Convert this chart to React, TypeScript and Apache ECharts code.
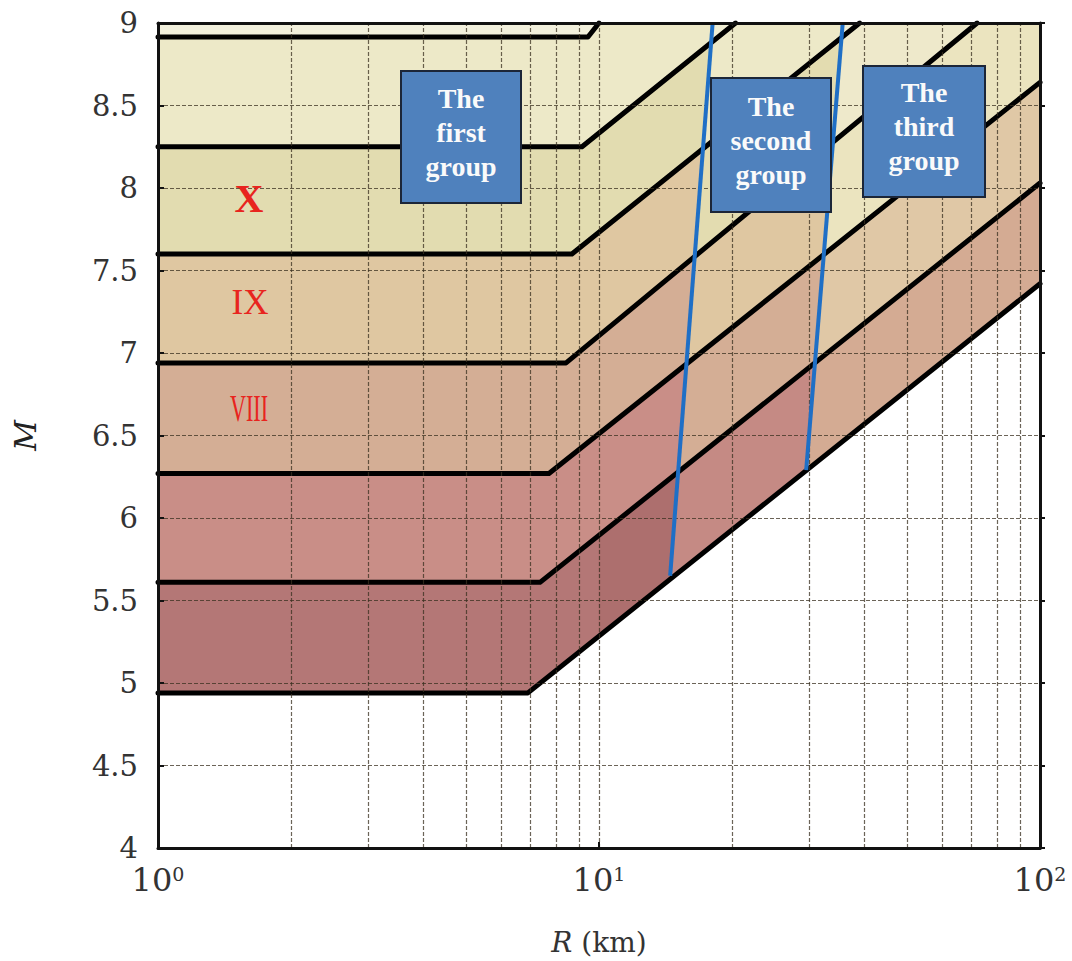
import React, { useEffect, useRef } from "react";
import * as echarts from "echarts";

// Boundary lines between intensity bands: [R (km), M]
const boundary1 = [[1, 4.94], [6.9, 4.94], [100, 7.42]];
const boundary2 = [[1, 5.61], [7.35, 5.61], [100, 8.03]];
const boundary3 = [[1, 6.27], [7.7, 6.27], [100, 8.64]];
const boundary4 = [[1, 6.94], [8.42, 6.94], [72, 9]];
const boundary5 = [[1, 7.6], [8.68, 7.6], [39, 9]];
const boundary6 = [[1, 8.25], [9.15, 8.25], [20.4, 9]];
const boundary7 = [[1, 8.915], [9.44, 8.915], [10, 9]];
const boundaries = [boundary1, boundary2, boundary3, boundary4, boundary5, boundary6, boundary7];

// Fill colour of the band lying above each boundary, per group
const firstGroupColors = ["#b47776", "#c98e87", "#d4ae95", "#dfc7a1", "#e2dcb0", "#ede9c8", "#f2f0dc"];
const secondGroupColors = ["#c58a84", "#d4ae95", "#dfc7a1", "#e3dcb0", "#ede9c8", "#f0eed4", "#f2f0dc"];
const thirdGroupColors = ["#d4ab93", "#e0c8a6", "#ebe4bf", "#eee9cb", "#f0eed6", "#f2f0dc", "#f2f0dc"];
const nearFieldEdge = [[10, 4], [10, 9]];
const nearFieldColor = "#ad6f6e";

// Group separation lines
const groupLine1 = [[14.5, 5.65], [18.1, 9]];
const groupLine2 = [[29.5, 6.29], [35.7, 9]];
const groupLines = [groupLine1, groupLine2];

// Grid lines
const gridM = [4.5, 5, 5.5, 6, 6.5, 7, 7.5, 8, 8.5];
const gridR = [2, 3, 4, 5, 6, 7, 8, 9, 10, 20, 30, 40, 50, 60, 70, 80, 90];

const intensityLabels = ["X", "IX", "VIII"];
const groupLabels = ["The\nfirst\ngroup", "The\nsecond\ngroup", "The\nthird\ngroup"];

const SERIF = "'Liberation Serif', 'Times New Roman', serif";
const WIDE_SERIF = "'DejaVu Serif', serif";

type P = number[];
const toU = (p: P): P => [Math.log10(p[0]), p[1]];
const fromU = (p: P): P => [Math.pow(10, p[0]), p[1]];

// polygon (u-space) of the region above a boundary
function polyAbove(boundary: P[]): P[] {
  const pts = boundary.map(toU);
  const out = [...pts];
  if (pts[pts.length - 1][1] < 9) out.push([2, 9]);
  out.push([0, 9]);
  return out;
}

// region above a boundary and right of the (extended) line A-B
function polyAboveRightOf(boundary: P[], line: P[]): P[] | null {
  const pts = boundary.map(toU);
  const A = toU(line[0]);
  const B = toU(line[1]);
  const dx = B[0] - A[0];
  const dy = B[1] - A[1];
  for (let i = 0; i < pts.length - 1; i++) {
    const p = pts[i];
    const q = pts[i + 1];
    const ex = q[0] - p[0];
    const ey = q[1] - p[1];
    const den = dx * ey - dy * ex;
    if (Math.abs(den) < 1e-12) continue;
    // A + t*d = p + s*e
    const s = (dx * (A[1] - p[1]) - dy * (A[0] - p[0])) / den;
    if (s < 0 || s > 1) continue;
    const hit = [p[0] + s * ex, p[1] + s * ey];
    const out: P[] = [hit, ...pts.slice(i + 1)];
    if (out[out.length - 1][1] < 9) out.push([2, 9]);
    out.push(B);
    return out;
  }
  return null;
}

export default function App() {
  const ref = useRef<HTMLDivElement>(null);

  useEffect(() => {
    if (!ref.current) return;
    const chart = echarts.init(ref.current, undefined, { renderer: "svg" });

    const polys: { pts: P[]; color: string }[] = [];
    boundaries.forEach((b, i) => {
      polys.push({ pts: polyAbove(b).map(fromU), color: firstGroupColors[i] });
      if (i === 0) {
        const nf = polyAboveRightOf(b, nearFieldEdge);
        if (nf) polys.push({ pts: nf.map(fromU), color: nearFieldColor });
      }
    });
    boundaries.forEach((b, i) => {
      const pg = polyAboveRightOf(b, groupLine1);
      if (pg) polys.push({ pts: pg.map(fromU), color: secondGroupColors[i] });
    });
    boundaries.forEach((b, i) => {
      const pg = polyAboveRightOf(b, groupLine2);
      if (pg) polys.push({ pts: pg.map(fromU), color: thirdGroupColors[i] });
    });

    const bandSeries = {
      type: "custom",
      coordinateSystem: "cartesian2d",
      xAxisIndex: 0,
      yAxisIndex: 0,
      clip: true,
      silent: true,
      z: 1,
      data: polys.map(() => [1, 4]),
      renderItem: (params: any, api: any) => {
        const poly = polys[params.dataIndex];
        return {
          type: "polygon",
          shape: { points: poly.pts.map((p) => api.coord(p)) },
          style: { fill: poly.color, stroke: poly.color, lineWidth: 0.5 },
        };
      },
    };

    const gridSeries = {
      type: "line",
      data: [],
      z: 3,
      silent: true,
      markLine: {
        silent: true,
        symbol: ["none", "none"],
        label: { show: false },
        lineStyle: { color: "#3a3020", width: 1.2, type: [4, 2], opacity: 0.75 },
        data: [
          ...gridM.map((v) => ({ yAxis: v })),
          ...gridR.map((v) => ({ xAxis: v })),
        ],
      },
    };

    const lineSeries = boundaries.map((b) => ({
      type: "line",
      data: b,
      symbol: "none",
      silent: true,
      z: 4,
      lineStyle: { color: "#000", width: 5, join: "round", cap: "round" },
    }));

    const blueSeries = groupLines.map((g) => ({
      type: "line",
      data: g,
      symbol: "none",
      silent: true,
      z: 5,
      lineStyle: { color: "#1f6fc6", width: 4 },
    }));

    const axisLineStyle = { show: true, lineStyle: { color: "#111", width: 3 } };

    const boxes = [
      { x: 401, y: 71, w: 120, h: 132 },
      { x: 711, y: 78, w: 120, h: 134 },
      { x: 863, y: 66, w: 122, h: 131 },
    ];

    const graphics: any[] = [];
    boxes.forEach((b, i) => {
      graphics.push({
        type: "rect",
        z: 100,
        shape: { x: b.x, y: b.y, width: b.w, height: b.h },
        style: { fill: "#4f81bd", stroke: "#1c2638", lineWidth: 2 },
      });
      graphics.push({
        type: "text",
        z: 101,
        x: b.x + b.w / 2,
        y: b.y + b.h / 2 - 5,
        style: {
          text: groupLabels[i],
          fill: "#fafafa",
          font: `bold 28px ${SERIF}`,
          lineHeight: 34,
          textAlign: "center",
          textVerticalAlign: "middle",
          align: "center",
          verticalAlign: "middle",
        },
      });
    });
    const numeralPos = [
      { x: 249, y: 198, size: 40, weight: "bold", sx: 1 },
      { x: 250, y: 302, size: 35, weight: "normal", sx: 1 },
      { x: 249, y: 409, size: 37, weight: "normal", sx: 0.6 },
    ];
    numeralPos.forEach((p, i) => {
      graphics.push({
        type: "text",
        z: 101,
        x: p.x,
        y: p.y,
        scaleX: p.sx,
        style: {
          text: intensityLabels[i],
          fill: "#e8241e",
          font: `${p.weight} ${p.size}px ${SERIF}`,
          textAlign: "center",
          textVerticalAlign: "middle",
          align: "center",
          verticalAlign: "middle",
        },
      });
    });

    chart.setOption({
      animation: false,
      backgroundColor: "#fff",
      grid: { left: 158, right: 32, top: 23, bottom: 113, containLabel: false, outerBoundsMode: "none" },
      xAxis: [
        {
          type: "log",
          logBase: 10,
          min: 1,
          max: 100,
          position: "bottom",
          z: 10,
          axisLine: axisLineStyle,
          axisTick: { show: true, inside: true, length: 6, lineStyle: { color: "#111", width: 2 } },
          splitLine: { show: false },
          axisLabel: {
            margin: 16,
            formatter: (v: number) => `{b|10}{s|${Math.round(Math.log10(v))}}`,
            rich: {
              b: { fontFamily: WIDE_SERIF, fontSize: 32, color: "#333", lineHeight: 32, verticalAlign: "bottom" },
              s: { fontFamily: WIDE_SERIF, fontSize: 19, color: "#333", lineHeight: 19, verticalAlign: "top", padding: [0, 0, 30, 0] },
            },
          },
          name: "{i|R} (km)",
          nameLocation: "middle",
          nameGap: 80,
          nameTextStyle: {
            fontFamily: WIDE_SERIF,
            fontSize: 28,
            color: "#333",
            rich: { i: { fontFamily: WIDE_SERIF, fontSize: 28, fontStyle: "italic", color: "#333" } },
          },
        },
        {
          type: "log",
          logBase: 10,
          min: 1,
          max: 100,
          position: "top",
          z: 10,
          axisLine: axisLineStyle,
          axisTick: { show: false },
          axisLabel: { show: false },
          splitLine: { show: false },
        },
      ],
      yAxis: [
        {
          type: "value",
          min: 4,
          max: 9,
          interval: 0.5,
          position: "left",
          z: 10,
          axisLine: axisLineStyle,
          axisTick: { show: true, inside: true, length: 6, lineStyle: { color: "#111", width: 2 } },
          splitLine: { show: false },
          axisLabel: { fontFamily: WIDE_SERIF, fontSize: 29, color: "#333", margin: 20 },
          name: "M",
          nameLocation: "middle",
          nameGap: 118,
          nameRotate: 90,
          nameTextStyle: { fontFamily: WIDE_SERIF, fontSize: 30, fontStyle: "italic", color: "#222" },
        },
        {
          type: "value",
          min: 4,
          max: 9,
          interval: 0.5,
          position: "right",
          z: 10,
          axisLine: axisLineStyle,
          axisTick: { show: true, inside: false, length: 5, lineStyle: { color: "#111", width: 2 } },
          axisLabel: { show: false },
          splitLine: { show: false },
        },
      ],
      series: [bandSeries, gridSeries, ...lineSeries, ...blueSeries],
      graphic: graphics,
    });

    return () => chart.dispose();
  }, []);

  return (
    <div
      ref={ref}
      style={{ position: "absolute", left: 0, top: 0, width: 1072, height: 961 }}
    />
  );
}
